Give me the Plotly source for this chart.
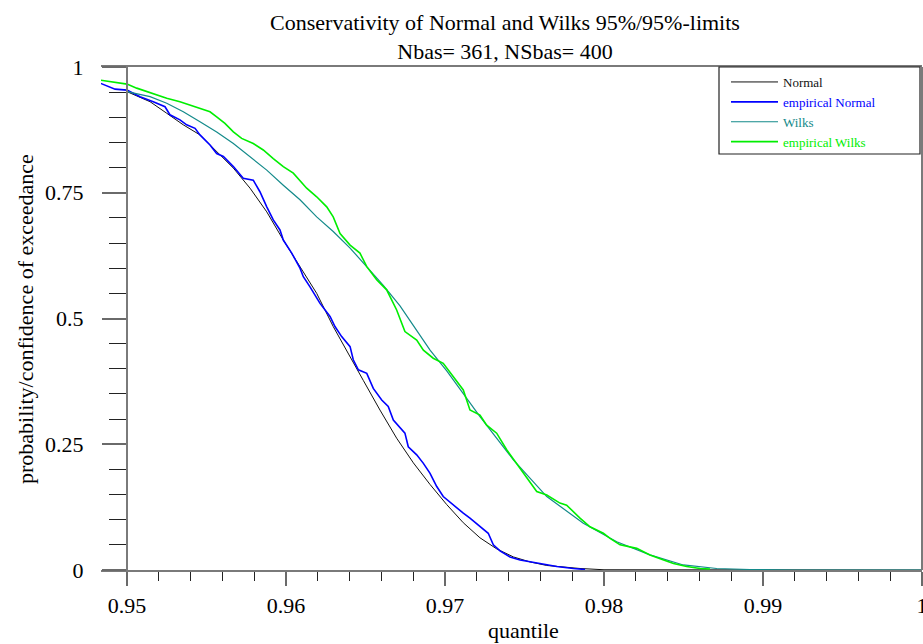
import plotly.graph_objects as go

# ---------------- data ----------------
normal_q = [0.95, 0.95145, 0.95250, 0.95354, 0.95459, 0.95564, 0.95669, 0.95774,
            0.95879, 0.95983, 0.96088, 0.96193, 0.96297, 0.96382, 0.96486, 0.96591,
            0.96696, 0.96801, 0.96906, 0.97011, 0.97115, 0.97220, 0.97325, 0.97430,
            0.97535, 0.97640, 0.97849, 0.9800, 0.9900, 1.0]
normal_p = [0.951, 0.931, 0.908, 0.885, 0.865, 0.832, 0.799, 0.759,
            0.712, 0.656, 0.603, 0.550, 0.484, 0.437, 0.377, 0.318,
            0.262, 0.213, 0.170, 0.130, 0.094, 0.064, 0.042, 0.026,
            0.016, 0.009, 0.003, 0.0005, 0.0, 0.0]

emp_normal_q = [0.94830, 0.94925, 0.95000, 0.95082, 0.95165, 0.95239, 0.95270, 0.95333,
                0.95375, 0.95428, 0.95459, 0.95522, 0.95564, 0.95606, 0.95669, 0.95731,
                0.95794, 0.95836, 0.95879, 0.95920, 0.95962, 0.95983, 0.96036, 0.96088,
                0.96109, 0.96151, 0.96214, 0.96277, 0.96308, 0.96350, 0.96403, 0.96423,
                0.96455, 0.96508, 0.96549, 0.96602, 0.96643, 0.96675, 0.96748, 0.96769,
                0.96822, 0.96864, 0.96906, 0.96948, 0.96989, 0.97052, 0.97115, 0.97157,
                0.97220, 0.97272, 0.97304, 0.97346, 0.97409, 0.97472, 0.97597, 0.97703,
                0.97807, 0.97881]
emp_normal_p = [0.968, 0.956, 0.954, 0.941, 0.931, 0.921, 0.905, 0.895,
                0.885, 0.878, 0.865, 0.845, 0.828, 0.822, 0.802, 0.779,
                0.775, 0.752, 0.722, 0.696, 0.676, 0.656, 0.630, 0.600,
                0.583, 0.563, 0.530, 0.504, 0.484, 0.464, 0.444, 0.418,
                0.398, 0.391, 0.361, 0.338, 0.325, 0.298, 0.272, 0.245,
                0.229, 0.212, 0.192, 0.166, 0.146, 0.129, 0.113, 0.103,
                0.086, 0.073, 0.050, 0.038, 0.026, 0.020, 0.013, 0.007,
                0.003, 0.001]

wilks_q = [0.95, 0.95145, 0.95250, 0.95354, 0.95459, 0.95564, 0.95669, 0.95774,
           0.95879, 0.95983, 0.96088, 0.96193, 0.96297, 0.96403, 0.96508, 0.96612,
           0.96717, 0.96801, 0.96906, 0.97011, 0.97220, 0.97430, 0.97640, 0.97870,
           0.98080, 0.98289, 0.98499, 0.98709, 0.98918, 0.9920, 1.0]
wilks_p = [0.951, 0.941, 0.928, 0.911, 0.891, 0.871, 0.848, 0.822,
           0.795, 0.765, 0.736, 0.702, 0.673, 0.640, 0.603, 0.566,
           0.525, 0.486, 0.437, 0.396, 0.305, 0.219, 0.146, 0.093,
           0.056, 0.030, 0.010, 0.003, 0.001, 0.0, 0.0]

emp_wilks_q = [0.94830, 0.94914, 0.95000, 0.95061, 0.95124, 0.95187, 0.95250, 0.95333,
               0.95396, 0.95459, 0.95522, 0.95564, 0.95616, 0.95669, 0.95721, 0.95794,
               0.95857, 0.95920, 0.95983, 0.96046, 0.96130, 0.96193, 0.96256, 0.96297,
               0.96340, 0.96403, 0.96465, 0.96508, 0.96570, 0.96633, 0.96696, 0.96748,
               0.96822, 0.96864, 0.96926, 0.96989, 0.97052, 0.97115, 0.97157, 0.97220,
               0.97262, 0.97325, 0.97388, 0.97451, 0.97514, 0.97577, 0.97640, 0.97723,
               0.97765, 0.97807, 0.97849, 0.97912, 0.97996, 0.98038, 0.98101, 0.98206,
               0.98289, 0.98375, 0.98437, 0.98520, 0.98604, 0.98667]
emp_wilks_p = [0.974, 0.970, 0.966, 0.958, 0.951, 0.944, 0.938, 0.931,
               0.924, 0.918, 0.911, 0.901, 0.888, 0.871, 0.858, 0.848,
               0.835, 0.818, 0.802, 0.789, 0.759, 0.742, 0.722, 0.702,
               0.669, 0.646, 0.630, 0.603, 0.577, 0.557, 0.517, 0.474,
               0.457, 0.437, 0.421, 0.411, 0.384, 0.358, 0.318, 0.308,
               0.288, 0.272, 0.239, 0.212, 0.185, 0.156, 0.149, 0.133,
               0.129, 0.116, 0.103, 0.086, 0.073, 0.063, 0.050, 0.043,
               0.030, 0.020, 0.013, 0.007, 0.003, 0.002]

series_names = ["Normal", "empirical Normal", "Wilks", "empirical Wilks"]
x_tickvals = [0.95, 0.96, 0.97, 0.98, 0.99, 1.0]
x_ticktext = ["0.95", "0.96", "0.97", "0.98", "0.99", "1"]
y_tickvals = [0, 0.25, 0.5, 0.75, 1]
y_ticktext = ["0", "0.25", "0.5", "0.75", "1"]

title_text = "Conservativity of Normal and Wilks 95%/95%-limits<br>Nbas= 361, NSbas= 400"
x_title = "quantile"
y_title = "probability/confidence of exceedance"

# ---------------- styling ----------------
FONT = "Liberation Serif, Times New Roman, serif"
colors = ["#111111", "#0000ff", "#138a8a", "#00ee00"]
widths = [1.0, 1.6, 1.2, 1.6]

W, H = 923, 644
L, R, T, B = 101, 1, 67, 74
PW = W - L - R
PH = H - T - B


def px_x(px):
    return (px - L) / PW


def px_y(py):
    return (H - B - py) / PH


fig = go.Figure()
data = [(normal_q, normal_p), (emp_normal_q, emp_normal_p),
        (wilks_q, wilks_p), (emp_wilks_q, emp_wilks_p)]
for (qx, py), name, c, w in zip(data, series_names, colors, widths):
    fig.add_trace(go.Scatter(
        x=qx, y=py, mode="lines",
        name=f"<span style='color:{c}'>{name}</span>",
        line=dict(color=c, width=w),
        hoverinfo="skip",
    ))

x_left = 0.95 - (127 - L) / 15900.0

fig.update_layout(
    width=W, height=H,
    margin=dict(l=L, r=R, t=T, b=B, pad=0, autoexpand=False),
    paper_bgcolor="white", plot_bgcolor="white",
    font=dict(family=FONT, size=22, color="black"),
    title=dict(text=title_text, x=505 / W, xref="container", xanchor="center",
               y=1 - 30 / H, yref="container", yanchor="top",
               font=dict(family=FONT, size=22, color="black")),
    showlegend=True,
    legend=dict(x=px_x(726), y=1, xanchor="left", yanchor="top",
                bgcolor="rgba(0,0,0,0)", borderwidth=0,
                itemwidth=47, tracegroupgap=0,
                font=dict(family=FONT, size=13, color="black")),
    xaxis=dict(
        range=[x_left, 1.0], showgrid=False, zeroline=False, automargin=False,
        showline=True, linecolor="#7a7a7a", linewidth=2, mirror=True,
        tickmode="array", tickvals=x_tickvals, ticktext=x_ticktext,
        ticks="outside", ticklen=14, tickwidth=2, tickcolor="#6a6a6a",
        ticklabelstandoff=1, ticklabeloverflow="allow",
        tickfont=dict(family=FONT, size=22, color="black"),
        minor=dict(tickmode="linear", tick0=0.95, dtick=0.002, ticks="outside",
                   ticklen=9, tickwidth=1, tickcolor="#222222", showgrid=False),
    ),
    yaxis=dict(
        range=[0, 1], showgrid=False, zeroline=False, automargin=False,
        anchor="free", position=(127 - L) / PW,
        showline=True, linecolor="#7a7a7a", linewidth=2,
        tickmode="array", tickvals=y_tickvals, ticktext=y_ticktext,
        ticks="outside", ticklen=24, tickwidth=2, tickcolor="#6a6a6a",
        ticklabelstandoff=14,
        tickfont=dict(family=FONT, size=22, color="black"),
        minor=dict(tickmode="linear", tick0=0, dtick=0.05, ticks="outside",
                   ticklen=17, tickwidth=1, tickcolor="#222222", showgrid=False),
    ),
    shapes=[
        dict(type="line", xref="paper", yref="paper", x0=1, x1=1, y0=0, y1=1,
             line=dict(color="#7a7a7a", width=2)),
        dict(type="rect", xref="paper", yref="paper",
             x0=px_x(719), x1=px_x(920), y0=px_y(67), y1=px_y(154),
             line=dict(color="#222222", width=1.2), fillcolor="rgba(0,0,0,0)"),
    ],
    annotations=[
        dict(text=x_title, xref="paper", yref="paper", x=px_x(523), y=px_y(630),
             xanchor="center", yanchor="middle", showarrow=False,
             font=dict(family=FONT, size=22, color="black")),
        dict(text=y_title, xref="paper", yref="paper", x=px_x(25), y=px_y(319),
             xanchor="center", yanchor="middle", textangle=-90, showarrow=False,
             font=dict(family=FONT, size=22, color="black")),
    ],
)

fig.write_html("out.html")
